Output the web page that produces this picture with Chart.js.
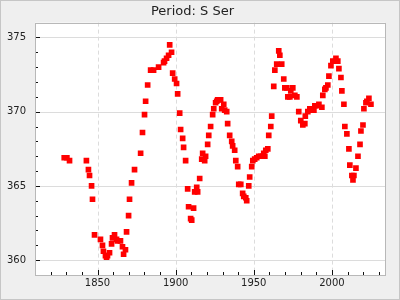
<!DOCTYPE html>
<html>
<head>
<meta charset="utf-8">
<script src="https://cdn.jsdelivr.net/npm/chart.js@4/dist/chart.umd.min.js"></script>
<style>
  html, body { margin: 0; padding: 0; background: #efefef; }
  #wrap { width: 400px; height: 300px; }
</style>
</head>
<body>
<div id="wrap"><canvas id="chart" width="400" height="300"></canvas></div>
<script>
// data
const years = [
  1828.7, 1830.4, 1832.1, 1842.9, 1844.2, 1844.9, 1846.2, 1846.8, 1848.1, 1851.9,
  1853.2, 1853.8, 1855.1, 1855.8, 1856.4, 1857.7, 1859.0, 1859.6, 1860.9, 1862.2,
  1862.8, 1864.7, 1866.0, 1866.7, 1867.9, 1868.6, 1869.9, 1870.5, 1871.8, 1873.7,
  1877.6, 1878.8, 1880.1, 1880.8, 1882.1, 1884.0, 1885.9, 1889.1, 1892.3, 1892.9,
  1894.2, 1895.5, 1896.2, 1897.4, 1898.1, 1899.4, 1900.6, 1901.3, 1902.6, 1903.2,
  1904.5, 1905.1, 1906.4, 1907.7, 1908.3, 1909.6, 1910.3, 1911.5, 1912.2, 1913.5,
  1914.1, 1915.4, 1916.7, 1917.3, 1918.6, 1919.2, 1920.5, 1921.2, 1922.4, 1923.7,
  1924.4, 1925.6, 1926.3, 1926.9, 1928.8, 1929.5, 1930.8, 1931.4, 1932.7, 1933.3,
  1934.6, 1935.9, 1936.5, 1937.8, 1938.5, 1939.7, 1940.4, 1941.7, 1942.9, 1943.6,
  1944.9, 1945.5, 1946.8, 1947.4, 1948.7, 1949.4, 1950.6, 1951.9, 1953.2, 1954.5,
  1955.8, 1956.4, 1957.1, 1957.7, 1959.0, 1959.6, 1960.9, 1961.5, 1962.8, 1963.5,
  1964.7, 1966.0, 1966.7, 1967.9, 1969.2, 1969.9, 1971.2, 1971.8, 1973.1, 1973.7,
  1975.0, 1976.3, 1977.6, 1978.8, 1980.1, 1981.4, 1982.7, 1983.0, 1984.6, 1985.9,
  1987.2, 1988.5, 1989.1, 1990.4, 1991.7, 1993.6, 1994.2, 1995.5, 1996.2, 1997.4,
  1998.1, 1999.4, 2000.6, 2002.6, 2003.8, 2004.5, 2005.8, 2006.4, 2007.7, 2008.3,
  2009.6, 2010.9, 2011.5, 2012.8, 2013.5, 2014.1, 2015.4, 2016.7, 2018.0, 2018.6,
  2019.9, 2020.5, 2021.8, 2022.4, 2023.7, 2025.0
];
const magnitudes = [
  366.9, 366.9, 366.7, 366.7, 366.1, 365.7, 365.0, 364.1, 361.7, 361.4,
  361.0, 360.6, 360.3, 360.2, 360.3, 360.5, 361.1, 361.5, 361.7, 361.4,
  361.3, 361.3, 360.9, 360.4, 360.7, 361.9, 363.0, 364.1, 365.2, 366.1,
  367.2, 368.6, 369.8, 370.7, 371.8, 372.8, 372.8, 373.0, 373.3, 373.4,
  373.6, 373.8, 374.5, 374.0, 372.6, 372.2, 371.9, 371.2, 369.9, 368.8,
  368.2, 367.6, 366.7, 364.8, 363.6, 362.8, 362.7, 363.5, 364.6, 364.9,
  364.6, 365.5, 366.8, 367.2, 366.7, 367.0, 367.8, 368.4, 369.0, 369.8,
  370.2, 370.6, 370.7, 370.8, 370.8, 370.2, 370.5, 370.1, 370.0, 369.2,
  368.4, 368.0, 367.7, 367.4, 366.7, 366.3, 365.1, 365.1, 364.5, 364.3,
  364.2, 364.0, 365.0, 365.6, 366.3, 366.7, 366.8, 366.9, 367.0, 367.0,
  367.0, 367.2, 367.0, 367.4, 367.5, 368.4, 369.0, 369.7, 371.7, 372.8,
  373.2, 374.1, 373.8, 373.2, 372.2, 371.6, 371.6, 371.0, 371.0, 371.4,
  371.6, 371.1, 371.0, 370.0, 369.4, 369.1, 369.2, 369.7, 370.0, 370.2,
  370.1, 370.1, 370.4, 370.4, 370.5, 370.3, 371.1, 371.5, 371.6, 371.8,
  372.4, 373.1, 373.4, 373.6, 373.4, 372.9, 372.3, 371.4, 370.5, 369.0,
  368.5, 367.5, 366.4, 365.7, 365.4, 365.7, 366.2, 367.0, 367.8, 368.7,
  369.1, 370.2, 370.6, 370.7, 370.9, 370.5
];
const xTicks = [1850, 1900, 1950, 2000];
const yTicks = [360, 365, 370, 375];

const FONT = 'DejaVu Sans';

// background, frame, grid lines, spines and inward ticks (matplotlib look)
const frame = {
  id: 'frame',
  beforeDraw(chart) {
    const { ctx, chartArea: a, width, height } = chart;
    const xs = chart.scales.x, ys = chart.scales.y;
    ctx.save();
    ctx.fillStyle = '#efefef';
    ctx.fillRect(0, 0, width, height);
    ctx.strokeStyle = '#c6c6c6';
    ctx.lineWidth = 1;
    ctx.strokeRect(0.5, 0.5, width - 1, height - 1);
    ctx.fillStyle = '#ffffff';
    ctx.fillRect(a.left, a.top, a.right - a.left, a.bottom - a.top);

    ctx.strokeStyle = '#dcdcdc';
    yTicks.forEach(v => {
      const p = Math.round(ys.getPixelForValue(v)) + 0.5;
      ctx.beginPath(); ctx.moveTo(a.left, p); ctx.lineTo(a.right, p); ctx.stroke();
    });
    ctx.setLineDash([4, 3]);
    xTicks.forEach(v => {
      const p = Math.round(xs.getPixelForValue(v)) + 0.5;
      ctx.beginPath(); ctx.moveTo(p, a.top); ctx.lineTo(p, a.bottom); ctx.stroke();
    });
    ctx.restore();
  },
  afterDatasetsDraw(chart) {
    const { ctx, chartArea: a } = chart;
    const xs = chart.scales.x, ys = chart.scales.y;
    ctx.save();
    ctx.lineWidth = 1;
    ctx.strokeStyle = '#111';
    // minor + major ticks, pointing into the plot
    for (let v = 1820; v <= 2030; v += 10) {
      const len = xTicks.includes(v) ? 5 : 3;
      const p = Math.round(xs.getPixelForValue(v)) + 0.5;
      ctx.beginPath(); ctx.moveTo(p, a.bottom); ctx.lineTo(p, a.bottom - len); ctx.stroke();
    }
    for (let v = 360; v <= 375; v += 1) {
      const len = yTicks.includes(v) ? 5 : 3;
      const p = Math.round(ys.getPixelForValue(v)) + 0.5;
      ctx.beginPath(); ctx.moveTo(a.left, p); ctx.lineTo(a.left + len, p); ctx.stroke();
    }
    ctx.strokeStyle = '#b8b8b8';
    ctx.strokeRect(Math.round(a.left) + 0.5, Math.round(a.top) + 0.5,
      Math.round(a.right - a.left), Math.round(a.bottom - a.top));
    ctx.restore();
  }
};

new Chart(document.getElementById('chart'), {
  type: 'scatter',
  data: {
    datasets: [{
      data: years.map((y, i) => ({ x: y, y: magnitudes[i] })),
      pointStyle: 'rect',
      pointRadius: 4,
      pointBorderWidth: 0,
      backgroundColor: '#ff0000',
      borderColor: '#ff0000'
    }]
  },
  options: {
    responsive: false,
    animation: false,
    events: [],
    layout: { padding: { left: 0, right: 15, top: 0, bottom: 0 } },
    plugins: {
      legend: { display: false },
      tooltip: { enabled: false },
      title: {
        display: true,
        text: 'Period: S Ser',
        color: '#222',
        font: { family: FONT, size: 13, weight: 'normal' },
        padding: { top: 4, bottom: 3 }
      }
    },
    scales: {
      x: {
        type: 'linear',
        min: 1810,
        max: 2034,
        grid: { display: false, drawTicks: false },
        border: { display: false },
        afterBuildTicks: s => { s.ticks = xTicks.map(v => ({ value: v })); },
        afterFit: s => { s.height = 25; },
        ticks: {
          color: '#222',
          padding: 2,
          maxRotation: 0,
          font: { family: FONT, size: 10 },
          callback: v => String(v)
        }
      },
      y: {
        type: 'linear',
        min: 359,
        max: 376,
        grid: { display: false, drawTicks: false },
        border: { display: false },
        afterBuildTicks: s => { s.ticks = yTicks.map(v => ({ value: v })); },
        afterFit: s => { s.width = 35; },
        ticks: {
          color: '#222',
          padding: 9,
          font: { family: FONT, size: 10 },
          callback: v => String(v)
        }
      }
    }
  },
  plugins: [frame]
});
</script>
</body>
</html>
